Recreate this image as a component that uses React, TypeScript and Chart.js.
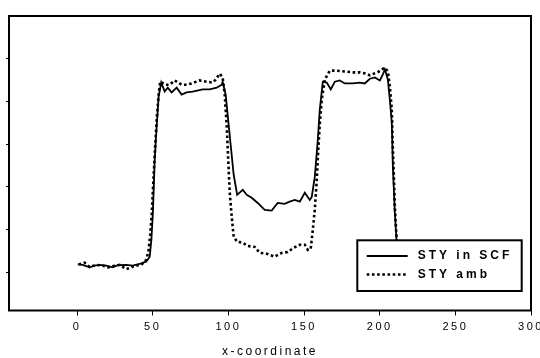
import React, { useEffect, useRef } from "react";
import { Chart, registerables } from "chart.js";

Chart.register(...registerables);

const seriesNames = ["STY in SCF", "STY amb"];

const xTicks = [0, 50, 100, 150, 200, 250, 300];
const yTicks = [1, 2, 3, 4, 5, 6];

const scfX = [0.5, 3.6, 8.3, 11.6, 14.9, 19.3, 23.5, 26.8, 32.5, 36.7, 41.3, 45.8, 48.0, 49.1, 50.1, 51.3, 52.6, 53.9, 55.6, 57.9, 59.9, 62.5, 65.8, 69.1, 72.4, 76.4, 83.0, 87.6, 92.3, 95.6, 96.2, 98.2, 99.5, 101.5, 103.5, 105.8, 109.5, 112.1, 115.4, 119.4, 124.0, 128.6, 130.6, 132.6, 137.2, 140.5, 143.9, 147.2, 150.5, 153.8, 155.1, 157.1, 159.1, 160.4, 162.4, 165.0, 167.7, 170.3, 173.6, 176.9, 182.2, 186.8, 190.1, 193.5, 196.8, 200.1, 202.1, 203.4, 205.4, 206.7, 208.0, 208.7, 210.0, 211.1, 212.6];
const scfY = [1.18, 1.17, 1.11, 1.15, 1.17, 1.15, 1.11, 1.16, 1.17, 1.15, 1.19, 1.25, 1.36, 1.76, 2.39, 3.63, 4.41, 5.11, 5.44, 5.23, 5.32, 5.21, 5.32, 5.16, 5.21, 5.23, 5.28, 5.28, 5.32, 5.39, 5.46, 5.16, 4.69, 3.98, 3.28, 2.81, 2.93, 2.81, 2.74, 2.62, 2.46, 2.44, 2.53, 2.62, 2.60, 2.65, 2.69, 2.65, 2.86, 2.69, 2.76, 3.23, 4.10, 4.81, 5.46, 5.44, 5.28, 5.46, 5.49, 5.42, 5.42, 5.44, 5.42, 5.53, 5.56, 5.49, 5.63, 5.75, 5.51, 5.04, 4.50, 3.47, 2.39, 1.76, 1.24];

const ambX = [1.0, 5.0, 8.3, 12.7, 17.1, 20.4, 24.8, 28.1, 32.4, 35.9, 38.0, 42.5, 45.8, 47.3, 48.3, 49.3, 50.3, 51.3, 52.6, 53.9, 54.9, 58.5, 61.2, 64.5, 69.1, 72.4, 75.7, 81.0, 85.7, 89.6, 91.6, 94.3, 96.2, 97.6, 98.9, 99.9, 100.9, 102.2, 103.5, 105.8, 109.5, 112.8, 117.4, 120.7, 125.3, 130.6, 135.3, 139.2, 143.2, 147.2, 150.5, 152.5, 154.4, 155.8, 157.1, 158.4, 159.4, 160.4, 161.7, 163.7, 167.0, 171.6, 176.9, 182.2, 186.8, 190.8, 193.5, 196.1, 198.7, 201.4, 203.4, 205.4, 206.7, 208.0, 208.7, 209.4, 210.0, 211.1, 212.6];
const ambY = [1.18, 1.22, 1.12, 1.17, 1.15, 1.11, 1.15, 1.17, 1.07, 1.11, 1.15, 1.17, 1.29, 1.52, 1.87, 2.34, 3.05, 3.75, 4.57, 5.16, 5.46, 5.39, 5.39, 5.49, 5.39, 5.39, 5.42, 5.49, 5.46, 5.44, 5.51, 5.65, 5.56, 5.16, 4.41, 3.63, 2.86, 2.30, 1.83, 1.71, 1.69, 1.61, 1.59, 1.45, 1.43, 1.36, 1.45, 1.47, 1.57, 1.64, 1.64, 1.52, 1.54, 1.99, 2.46, 3.16, 3.87, 4.46, 5.04, 5.51, 5.72, 5.72, 5.70, 5.68, 5.68, 5.65, 5.61, 5.65, 5.68, 5.75, 5.79, 5.70, 5.35, 4.81, 3.87, 3.23, 2.53, 1.83, 1.24];

const FONT = "'Liberation Sans', Arial, sans-serif";

const spacingPlugin = {
  id: "spacing",
  beforeDraw(chart: any) {
    (chart.ctx as any).letterSpacing = "2.5px";
  },
};

const framePlugin = {
  id: "frame",
  afterDatasetsDraw(chart: any) {
    const { ctx, chartArea } = chart;
    ctx.save();
    ctx.strokeStyle = "#000";
    ctx.lineWidth = 2;
    ctx.strokeRect(chartArea.left, chartArea.top, chartArea.right - chartArea.left, chartArea.bottom - chartArea.top);
    ctx.restore();
  },
};

const boxLegendPlugin = {
  id: "boxLegend",
  afterDraw(chart: any) {
    const { ctx, chartArea } = chart;
    const w = 164.4;
    const h = 50.7;
    const left = chartArea.right - 173.7;
    const top = chartArea.bottom - 70.2;
    ctx.save();
    ctx.fillStyle = "#fff";
    ctx.fillRect(left, top, w, h);
    ctx.strokeStyle = "#000";
    ctx.lineWidth = 2;
    ctx.strokeRect(left, top, w, h);
    const rows = [top + 15.7, top + 34.2];
    chart.data.datasets.forEach((ds: any, i: number) => {
      const y = rows[i];
      ctx.beginPath();
      ctx.setLineDash(ds.borderDash || []);
      ctx.lineWidth = ds.borderWidth;
      ctx.strokeStyle = ds.borderColor;
      ctx.moveTo(left + 9.4, y);
      ctx.lineTo(left + 50.4, y);
      ctx.stroke();
      ctx.setLineDash([]);
      (ctx as any).letterSpacing = "3px";
      ctx.font = `bold 12px ${FONT}`;
      ctx.fillStyle = "#000";
      ctx.textAlign = "left";
      ctx.textBaseline = "middle";
      ctx.fillText(ds.label, left + 60.4, y);
    });
    ctx.restore();
  },
};

export default function App() {
  const ref = useRef<HTMLCanvasElement | null>(null);
  useEffect(() => {
    if (!ref.current) return;
    const chart = new Chart(ref.current, {
      type: "line",
      data: {
        datasets: [
          {
            label: seriesNames[0],
            data: scfX.map((x, i) => ({ x, y: scfY[i] })),
            borderColor: "#000",
            borderWidth: 1.8,
            pointRadius: 0,
            tension: 0,
            fill: false,
          },
          {
            label: seriesNames[1],
            data: ambX.map((x, i) => ({ x, y: ambY[i] })),
            borderColor: "#000",
            borderWidth: 2.6,
            borderDash: [2.6, 2.6],
            borderCapStyle: "butt",
            pointRadius: 0,
            tension: 0,
            fill: false,
          },
        ],
      },
      options: {
        animation: false,
        responsive: false,
        devicePixelRatio: 1,
        layout: { padding: { top: 16, right: 9, left: 0, bottom: 0 } },
        plugins: { legend: { display: false }, tooltip: { enabled: false } },
        scales: {
          x: {
            type: "linear",
            min: -45,
            max: 300,
            afterBuildTicks: (s: any) => {
              s.ticks = xTicks.map((v) => ({ value: v }));
            },
            afterFit: (s: any) => {
              s.height = 47.5;
              s.paddingLeft = 0;
              s.paddingRight = 0;
            },
            border: { display: false },
            grid: { drawOnChartArea: false, drawTicks: true, tickLength: 5, tickColor: "#000", tickWidth: 1 },
            ticks: { color: "#000", font: { family: FONT, size: 11 }, padding: 5, maxRotation: 0, autoSkip: false },
            title: {
              display: true,
              text: "x-coordinate",
              color: "#000",
              font: { family: FONT, size: 12, lineHeight: 1 },
              padding: 0,
            },
          },
          y: {
            type: "linear",
            min: 0.1,
            max: 7,
            afterBuildTicks: (s: any) => {
              s.ticks = yTicks.map((v) => ({ value: v }));
            },
            afterFit: (s: any) => {
              s.width = 9;
              s.paddingTop = 0;
              s.paddingBottom = 0;
            },
            border: { display: false },
            grid: { drawOnChartArea: false, drawTicks: true, tickLength: 3, tickColor: "#000", tickWidth: 1 },
            ticks: { display: false },
          },
        },
      },
      plugins: [spacingPlugin, framePlugin, boxLegendPlugin],
    } as any);
    return () => chart.destroy();
  }, []);
  return (
    <div style={{ position: "absolute", left: 0, top: 0, width: 540, height: 358, background: "#fff" }}>
      <canvas ref={ref} width={540} height={358} style={{ display: "block" }} />
    </div>
  );
}
